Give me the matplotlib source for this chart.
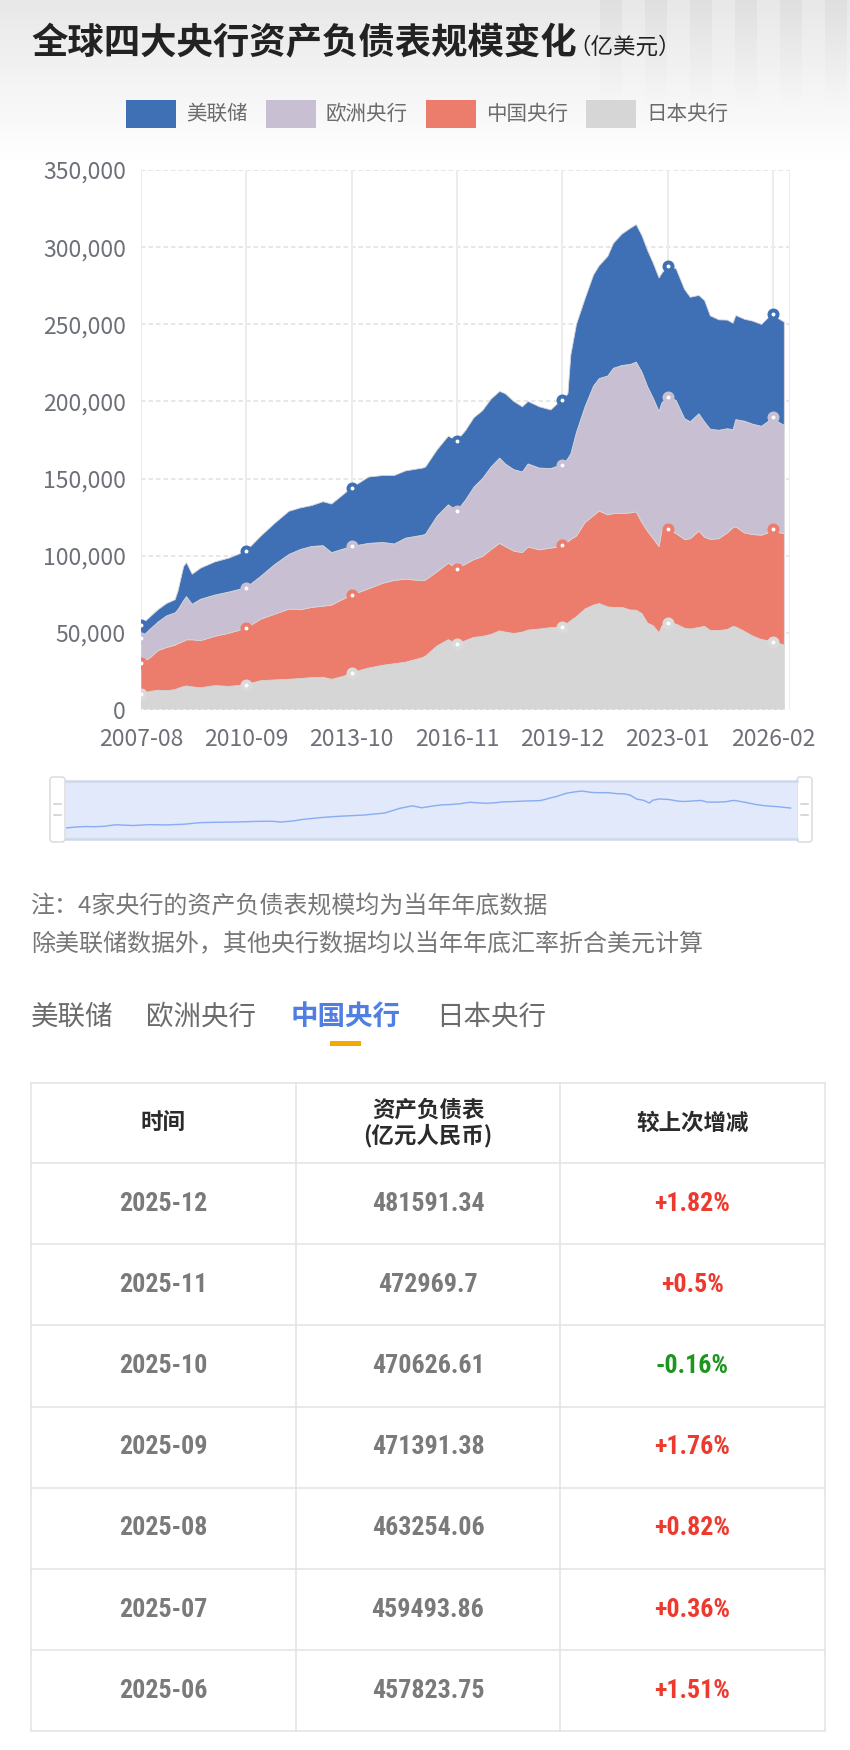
import numpy as np
import pandas as pd
import matplotlib
matplotlib.use("Agg")
import matplotlib.pyplot as plt
from matplotlib import font_manager
from matplotlib.patches import Rectangle, FancyBboxPatch
from matplotlib.ticker import FuncFormatter

plt.rcParams['font.family'] = ['Noto Sans CJK SC', 'DejaVu Sans']

W, H, DPI = 850, 1750, 100


def pt(px):
    """pixels -> points at the figure dpi"""
    return px * 72 / DPI


# ---- chart data (亿美元) ----
sample_months = [
    '2007-08', '2007-11', '2008-02', '2008-05', '2008-08', '2008-09', '2008-11', '2008-12',
    '2009-02', '2009-05', '2009-10', '2010-03', '2010-09', '2011-02', '2011-07', '2011-12',
    '2012-04', '2012-08', '2012-12', '2013-03', '2013-07', '2013-10', '2014-04', '2014-09',
    '2015-01', '2015-05', '2015-11', '2015-12', '2016-04', '2016-08', '2016-11', '2017-02',
    '2017-05', '2017-08', '2017-11', '2018-02', '2018-04', '2018-07', '2018-10', '2018-12',
    '2019-04', '2019-08', '2019-10', '2019-12', '2020-02', '2020-03', '2020-05', '2020-08',
    '2020-11', '2021-01', '2021-04', '2021-06', '2021-09', '2021-12', '2022-02', '2022-04',
    '2022-06', '2022-08', '2022-10', '2022-11', '2023-01', '2023-04', '2023-07', '2023-09',
    '2023-12', '2024-02', '2024-04', '2024-07', '2024-10', '2024-12', '2025-01', '2025-04',
    '2025-07', '2025-10', '2025-12', '2026-02', '2026-04', '2026-06',
]
boj = [
    10500, 12000, 12800, 12500, 13200, 14000, 15200, 15600, 15000, 14400, 15800, 15300, 16500,
    19000, 19500, 19900, 20400, 21000, 21200, 19900, 21800, 24200, 27200, 29000, 30000, 31000,
    34000, 35000, 41500, 45600, 42500, 45000, 47100, 47700, 49000, 51300, 50500, 49600, 50500,
    51800, 52500, 53400, 53600, 54000, 56500, 58000, 60500, 65500, 68000, 69000, 66800, 66500,
    66500, 64800, 64700, 62500, 56300, 54600, 50000, 54500, 56500, 55700, 53000, 52500, 53500,
    54200, 51600, 51500, 52200, 54200, 53800, 51000, 47900, 45700, 45000, 44200, 43200, 42100,
]
pboc = [
    20000, 21500, 25700, 28000, 28800, 29000, 29300, 29900, 30500, 30600, 32000, 34500, 36500,
    39800, 42600, 45500, 44600, 45500, 46100, 48100, 50000, 50200, 51400, 53200, 54000, 53800,
    49800, 49300, 48000, 49600, 49000, 49500, 50400, 51800, 55000, 56700, 55500, 53400, 51500,
    53900, 51300, 51600, 51800, 52800, 52500, 52500, 52300, 56000, 58000, 60000, 59700, 60800,
    60800, 63000, 63700, 59000, 59500, 56400, 56000, 62000, 60500, 58700, 57500, 58500, 62500,
    57800, 59000, 59500, 62600, 64000, 64900, 63800, 65800, 67600, 69500, 73400, 71800, 72300,
]
ecb = [
    16000, 18500, 18500, 20500, 21000, 22000, 26500, 28000, 23000, 26800, 26700, 26700, 26300,
    27700, 32200, 35400, 39000, 39500, 39200, 34000, 32500, 31600, 29400, 26400, 23600, 26600,
    29500, 29700, 36000, 37800, 37500, 41500, 47000, 50500, 53500, 55300, 53500, 52800, 52300,
    53800, 53000, 51500, 52400, 51800, 54000, 55500, 67200, 75000, 84000, 85800, 90000, 94200,
    96000, 96200, 97100, 97500, 93700, 91000, 87500, 82500, 85800, 86300, 78300, 75800, 76000,
    74700, 71400, 70300, 67500, 63500, 69500, 72400, 71500, 70600, 72000, 72300, 71500, 70100,
]
fed = [
    8500, 8000, 8000, 8000, 8500, 12000, 22000, 22000, 19500, 20200, 21500, 22000, 23700,
    26000, 26700, 28000, 27000, 26500, 28500, 31500, 35200, 38000, 43000, 43400, 44400, 43600,
    43500, 43500, 43000, 44500, 45500, 45000, 45000, 44000, 44000, 43200, 45500, 44200, 42200,
    40500, 39700, 38000, 40200, 42100, 42000, 64000, 70000, 70000, 72000, 73200, 77500, 81000,
    85200, 88300, 89100, 88500, 88300, 87500, 86500, 84000, 84700, 85300, 83700, 80700, 76700,
    78700, 73500, 71600, 70400, 69000, 67500, 66100, 66800, 66000, 67100, 66500, 67100, 66900,
]

axis_start, axis_end = '2007-08', '2026-08'
label_step = 37
y_max, y_step = 350000, 50000

legend_names = ['美联储', '欧洲央行', '中国央行', '日本央行']
legend_colors = ['#3f70b5', '#c8bfd3', '#ec7c6c', '#d6d6d6']

notes = ['注：4家央行的资产负债表规模均为当年年底数据',
         '除美联储数据外，其他央行数据均以当年年底汇率折合美元计算']

tab_names = ['美联储', '欧洲央行', '中国央行', '日本央行']
active_tab = '中国央行'

table_header = ['时间', '资产负债表\n(亿元人民币)', '较上次增减']
table_dates = ['2025-12', '2025-11', '2025-10', '2025-09', '2025-08', '2025-07', '2025-06']
table_values = ['481591.34', '472969.7', '470626.61', '471391.38', '463254.06', '459493.86', '457823.75']
table_changes = ['+1.82%', '+0.5%', '-0.16%', '+1.76%', '+0.82%', '+0.36%', '+1.51%']


def pick_num_font():
    """narrow font for the table figures, if one is installed"""
    have = {f.name for f in font_manager.fontManager.ttflist}
    for name in ('Roboto Condensed', 'Liberation Sans Narrow', 'Open Sans Condensed',
                 'Noto Sans Condensed', 'Arial Narrow'):
        if name in have:
            return dict(family=name), 26
    return dict(family='Liberation Sans'), 21.5


num_font, num_px = pick_num_font()

fig = plt.figure(figsize=(W / DPI, H / DPI), dpi=DPI)
fig.patch.set_facecolor('white')

# background axes in pixel coordinates
bg = fig.add_axes([0, 0, 1, 1])
bg.set_xlim(0, W)
bg.set_ylim(H, 0)
bg.axis('off')

# header gradient with faint pillars on the right
grad = np.linspace(0.925, 1.0, 160) ** 1.2
img = np.tile(grad[:, None], (1, W))
xs = np.arange(W)
for x0 in range(600, 850, 45):
    img[:110, (xs >= x0) & (xs < x0 + 22)] -= 0.035 * np.linspace(1, 0, 110)[:, None]
img = np.clip(img, 0, 1)
bg.imshow(np.dstack([img, img, img * 1.005]).clip(0, 1), extent=(0, W, 160, 0),
          aspect='auto', zorder=0)

bg.text(31, 44, '全球四大央行资产负债表规模变化', fontsize=pt(36.4), fontweight='bold',
        color='#222222', va='center', ha='left')
bg.text(568, 47, '（亿美元）', fontsize=pt(22.5), color='#222222', va='center', ha='left')

# legend
leg_box_x = [126, 266, 426, 586]
for name, col, bx in zip(legend_names, legend_colors, leg_box_x):
    bg.add_patch(Rectangle((bx, 100), 50, 28, facecolor=col, edgecolor='none'))
    bg.text(bx + 60, 114, name, fontsize=pt(20.5), color='#6b6b6b', va='center')

# ---- main stacked area chart ----
months = pd.period_range(axis_start, axis_end, freq='M')
pos = {str(p): i for i, p in enumerate(months)}
x = np.array([pos[m] for m in sample_months])

L, R, T, B = 141, 790, 170, 710
ax = fig.add_axes([L / W, 1 - B / H, (R - L) / W, (B - T) / H])
ax.set_facecolor('none')

stack = [boj, pboc, ecb, fed]
stack_colors = [legend_colors[3], legend_colors[2], legend_colors[1], legend_colors[0]]
ax.stackplot(x, *stack, colors=stack_colors, linewidth=0.6, edgecolors=stack_colors, zorder=2)

cum = np.cumsum(np.array(stack, dtype=float), axis=0)
tick_pos = list(range(0, len(months) - 6, label_step))
mask = np.isin(x, tick_pos)
ring_colors = ['#dadada', legend_colors[2], legend_colors[1], legend_colors[0]]
for k in range(4):
    ax.plot(x[mask], cum[k][mask], 'o', ms=pt(8), mfc='white', mec=ring_colors[k],
            mew=pt(4), zorder=5)

for yv in range(y_step, y_max + 1, y_step):
    ax.axhline(yv, color='#e0e0e0', lw=pt(1.5), ls=(0, (3, 2)), zorder=1)
ax.axhline(0, color='#eeeeee', lw=pt(2), ls=(0, (1.5, 1.5)), zorder=3)
for xv in tick_pos:
    ax.axvline(xv, color='#ececec', lw=pt(2), zorder=1)
ax.axvline(len(months) - 1, color='#ececec', lw=pt(2), zorder=1)

ax.set_xlim(0, len(months) - 1)
ax.set_ylim(0, y_max)
ax.set_xticks(tick_pos)
ax.set_xticklabels([str(months[i]) for i in tick_pos])
ax.set_yticks(range(0, y_max + 1, y_step))
ax.yaxis.set_major_formatter(FuncFormatter(lambda v, p: f'{int(v):,}'))
ax.tick_params(length=0, labelsize=pt(23), labelcolor='#6e7079')
ax.tick_params(axis='y', pad=pt(15))
ax.tick_params(axis='x', pad=pt(18))
for s in ax.spines.values():
    s.set_visible(False)

# ---- data zoom slider ----
SL, SR, ST, SB = 66, 797, 781, 839
sax = fig.add_axes([SL / W, 1 - SB / H, (SR - SL) / W, (SB - ST) / H])
sax.set_facecolor('#e1e9fb')
sax.plot(x, boj, color='#89acf2', lw=pt(1.4))
sax.set_xlim(0, len(months) - 1)
sax.set_ylim(-7000, 85000)
sax.set_xticks([])
sax.set_yticks([])
for side, s in sax.spines.items():
    if side in ('top', 'bottom'):
        s.set_color('#cfd8ea')
        s.set_linewidth(pt(2.5))
    else:
        s.set_visible(False)
for hx in (50, 797):
    bg.add_patch(FancyBboxPatch((hx, 777), 15, 65, boxstyle='round,pad=0,rounding_size=3',
                                facecolor='white', edgecolor='#dadada', lw=pt(1.5), zorder=5))
    for hy in (804, 815):
        bg.plot([hx + 4, hx + 11], [hy, hy], color='#cccccc', lw=pt(1.5), zorder=6)

# ---- notes ----
for i, line in enumerate(notes):
    bg.text(31, 907 + 38 * i, line, fontsize=pt(24), color='#777777', va='center')

# ---- tabs ----
tab_x = [31, 146, 291, 436]
for name, tx in zip(tab_names, tab_x):
    active = name == active_tab
    bg.text(tx, 1017, name, fontsize=pt(27.5), va='center',
            color='#4f7fe2' if active else '#6b6b6b',
            fontweight='bold' if active else 'normal')
bg.add_patch(Rectangle((330, 1041), 31, 4.5, facecolor='#f2a900', edgecolor='none'))

# ---- table ----
col_x = [31, 296, 560, 825]
row_y = [1083, 1163] + [1163 + 81.2 * (i + 1) for i in range(len(table_dates))]
line_kw = dict(color='#e3e3e3', lw=pt(1.5), zorder=3)
for yv in row_y:
    bg.plot([col_x[0], col_x[-1]], [yv, yv], **line_kw)
for xv in col_x:
    bg.plot([xv, xv], [row_y[0], row_y[-1]], **line_kw)

col_c = [(col_x[i] + col_x[i + 1]) / 2 for i in range(3)]
head_c = (row_y[0] + row_y[1]) / 2
for cx, txt in zip(col_c, table_header):
    bg.text(cx, head_c, txt, ha='center', va='center', fontsize=pt(22.5), color='#2b2b2b',
            fontweight='bold', linespacing=1.1)

for i, (d, v, c) in enumerate(zip(table_dates, table_values, table_changes)):
    cy = (row_y[i + 1] + row_y[i + 2]) / 2
    chg_col = '#ee3a2e' if c.startswith('+') else '#1e951e'
    for cx, txt, col in ((col_c[0], d, '#7a7a7a'), (col_c[1], v, '#7a7a7a'), (col_c[2], c, chg_col)):
        bg.text(cx, cy, txt, ha='center', va='center', fontsize=pt(num_px), color=col,
                fontweight='bold', **num_font)

fig.savefig('out.png', dpi=DPI, facecolor='white')
